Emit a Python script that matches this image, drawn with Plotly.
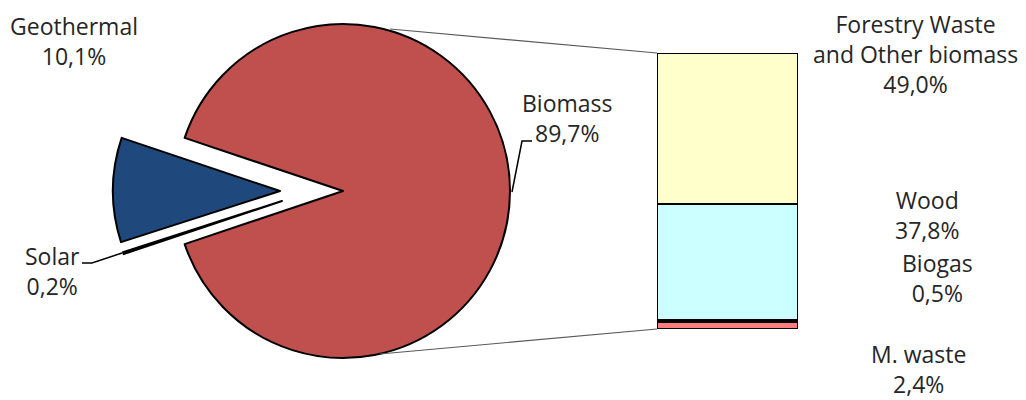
import plotly.graph_objects as go

# page offset of the plot div inside the browser body (default body margin)
OFF = 8
VW, VH = 1026, 400
W, H = VW - OFF, VH - OFF

# ---------------- data ----------------
pie_labels = ["Biomass", "Solar", "Geothermal"]
pie_values = [89.7, 0.2, 10.1]
pie_colors = ["#C0504D", "#262626", "#1F497D"]

bar_labels = ["M. waste", "Biogas", "Wood", "Forestry Waste and Other biomass"]
bar_values = [2.4, 0.5, 37.8, 49.0]
bar_colors = ["#FF7C80", "#262626", "#CCFFFF", "#FFFFCC"]

pie_text = {
    "Geothermal": "Geothermal<br>10,1%",
    "Biomass": "Biomass<br>89,7%",
    "Solar": "Solar<br>0,2%",
}
bar_text = {
    "Forestry Waste and Other biomass": "Forestry Waste<br>and Other biomass<br>49,0%",
    "Wood": "Wood<br>37,8%",
    "Biogas": "Biogas<br>0,5%",
    "M. waste": "M. waste<br>2,4%",
}

# ---------------- helpers ----------------
def px_x(x):
    return (x - OFF) / W

def px_y(y):
    return 1 - (y - OFF) / H

R = 167
TRANSP = "rgba(0,0,0,0)"
FONT = dict(family="Open Sans, Lato, sans-serif", size=23, color="#262626")

gap_frac = (pie_values[1] + pie_values[2]) / sum(pie_values)
rotation = -90 + gap_frac * 360 / 2  # biomass starts at upper edge of the left gap


def pie_trace(cx, cy, show):
    cols = [c if s else TRANSP for c, s in zip(pie_colors, show)]
    lcols = ["#000000" if s else TRANSP for s in show]
    return go.Pie(
        labels=pie_labels,
        values=pie_values,
        sort=False,
        direction="clockwise",
        rotation=rotation,
        marker=dict(colors=cols, line=dict(color=lcols, width=2)),
        textinfo="none",
        hoverinfo="skip",
        showlegend=False,
        domain=dict(x=[px_x(cx - R), px_x(cx + R)], y=[px_y(cy + R), px_y(cy - R)]),
    )


fig = go.Figure()
# main pie (biomass), exploded geothermal, exploded solar
fig.add_trace(pie_trace(343, 191, [True, False, False]))
fig.add_trace(pie_trace(280, 191, [False, False, True]))
fig.add_trace(pie_trace(282, 201, [False, True, False]))

# stacked bar of biomass breakdown
for lab, val, col in zip(bar_labels, bar_values, bar_colors):
    fig.add_trace(go.Bar(
        x=[0], y=[val], name=lab,
        marker=dict(color=col, line=dict(color="#000000", width=2)),
        width=1, xaxis="x", yaxis="y", hoverinfo="skip", showlegend=False,
    ))

fig.update_layout(
    width=W, height=H,
    margin=dict(l=0, r=0, t=0, b=0),
    paper_bgcolor="white", plot_bgcolor="rgba(0,0,0,0)",
    barmode="stack", bargap=0,
    xaxis=dict(domain=[px_x(657), px_x(798)], range=[-0.5, 0.5], visible=False, fixedrange=True),
    yaxis=dict(domain=[px_y(329), px_y(53)], range=[0, sum(bar_values)], visible=False, fixedrange=True),
    font=FONT,
)

# connector lines pie -> bar, leader lines
shapes = [
    dict(type="line", x0=px_x(390), y0=px_y(29), x1=px_x(657), y1=px_y(53),
         xref="paper", yref="paper", line=dict(color="#595959", width=1.2)),
    dict(type="line", x0=px_x(380), y0=px_y(354), x1=px_x(657), y1=px_y(329),
         xref="paper", yref="paper", line=dict(color="#595959", width=1.2)),
    dict(type="path", xref="paper", yref="paper",
         path=f"M {px_x(532)} {px_y(141)} L {px_x(522)} {px_y(141)} L {px_x(512)} {px_y(192)}",
         line=dict(color="#000000", width=1.5)),
    dict(type="path", xref="paper", yref="paper",
         path=f"M {px_x(82)} {px_y(263)} L {px_x(92)} {px_y(263)} L {px_x(122)} {px_y(253)}",
         line=dict(color="#000000", width=1.5)),
]
fig.update_layout(shapes=shapes)

label_pos = {
    "Geothermal": (74, 41),
    "Biomass": (567, 118),
    "Solar": (52, 271),
    "Forestry Waste and Other biomass": (915, 54),
    "Wood": (927, 215),
    "Biogas": (937, 278),
    "M. waste": (918, 369),
}
annots = []
for k, t in {**pie_text, **bar_text}.items():
    x, y = label_pos[k]
    annots.append(dict(text=t, x=px_x(x), y=px_y(y), xref="paper", yref="paper",
                       xanchor="center", yanchor="middle", showarrow=False,
                       borderpad=0, font=FONT))
fig.update_layout(annotations=annots)

fig.write_html("out.html")
